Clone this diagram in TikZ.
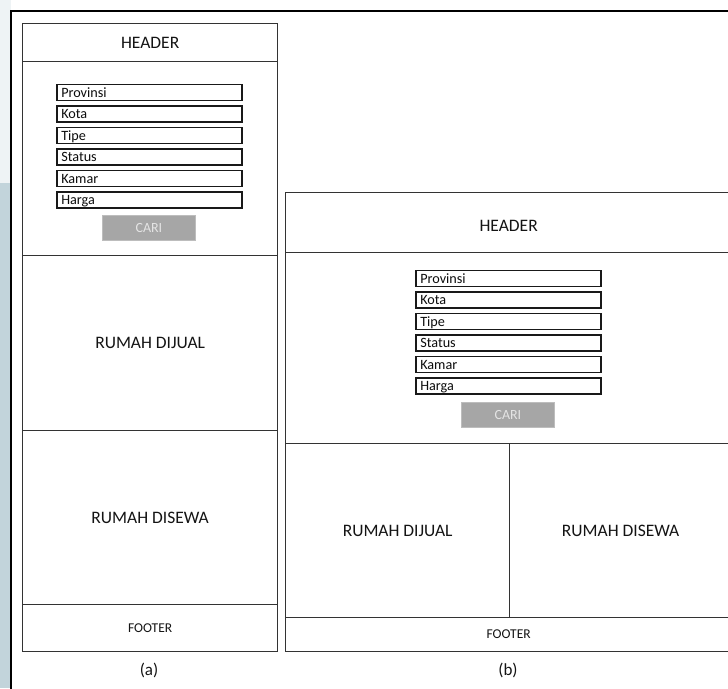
\documentclass[tikz,border=0pt]{standalone}
\usepackage{fontspec}
\setmainfont{Carlito}
\definecolor{stripA}{HTML}{EEF3F5}
\definecolor{stripB}{HTML}{C2D4DB}
\definecolor{linec}{HTML}{333333}
\definecolor{btnfill}{HTML}{A6A6A6}
\definecolor{btnline}{HTML}{BDBDBD}
\definecolor{btntext}{HTML}{E4E4E4}
\tikzset{
  panel/.style={draw=linec, line width=1.3pt, anchor=north west, inner sep=0pt, font=\fontsize{17.5}{20}\selectfont, text=black!92},
  smallpanel/.style={panel, font=\fontsize{13.5}{16}\selectfont},
  field/.style={draw=black!90, line width=1.5pt, anchor=north west, minimum height=16pt, text width=176pt, text height=10pt, text depth=0pt, inner xsep=4.5pt, inner ysep=0pt, align=left, font=\fontsize{14.2}{16}\selectfont, text=black!95},
  btn/.style={draw=btnline, line width=0.8pt, fill=btnfill, anchor=north west, minimum width=93pt, minimum height=25pt, inner sep=0pt, font=\fontsize{14}{16}\selectfont, text=btntext},
  caption/.style={font=\fontsize{17}{20}\selectfont, text=black!92}
}
\begin{document}
\begin{tikzpicture}[x=1pt,y=-1pt]
\useasboundingbox (0,0) rectangle (728,688);
\clip (0,0) rectangle (728,688);
\fill[white] (0,0) rectangle (728,688);
\fill[stripA] (0,0) rectangle (11,183);
\fill[stripB] (0,183) rectangle (11,688);
\draw[black, line width=1.3pt] (11,740) -- (11,11) -- (740,11);
% panel (a)
\node[panel, minimum width=255pt, minimum height=38pt] (aHead) at (22,23) {HEADER};
\node[panel, minimum width=255pt, minimum height=194pt] (aSearch) at (22,61) {};
\node[panel, minimum width=255pt, minimum height=175pt] (aJual) at (22,255) {RUMAH DIJUAL};
\node[panel, minimum width=255pt, minimum height=174pt] (aSewa) at (22,430) {RUMAH DISEWA};
\node[smallpanel, minimum width=255pt, minimum height=47pt] (aFoot) at (22,604) {FOOTER};
\node[field] (aF1) at (56,83.5) {Provinsi};
\node[field] (aF2) at (56,105) {Kota};
\node[field] (aF3) at (56,126.5) {Tipe};
\node[field] (aF4) at (56,148) {Status};
\node[field] (aF5) at (56,169.5) {Kamar};
\node[field] (aF6) at (56,191) {Harga};
\node[btn] (aBtn) at (102,215) {CARI};
\node[caption] (aCap) at (149,670) {(a)};
% panel (b)
\node[panel, minimum width=446pt, minimum height=60pt, text height=17pt, text depth=0pt] (bHead) at (285,192) {HEADER};
\node[panel, minimum width=446pt, minimum height=191pt] (bSearch) at (285,252) {};
\node[panel, minimum width=224pt, minimum height=174pt] (bJual) at (285,443) {RUMAH DIJUAL};
\node[panel, minimum width=222pt, minimum height=174pt] (bSewa) at (509,443) {RUMAH DISEWA};
\node[smallpanel, minimum width=446pt, minimum height=34pt] (bFoot) at (285,617) {FOOTER};
\node[field] (bF1) at (415,269.5) {Provinsi};
\node[field] (bF2) at (415,291) {Kota};
\node[field] (bF3) at (415,312.5) {Tipe};
\node[field] (bF4) at (415,334) {Status};
\node[field] (bF5) at (415,355.5) {Kamar};
\node[field] (bF6) at (415,377) {Harga};
\node[btn] (bBtn) at (461,402) {CARI};
\node[caption] (bCap) at (508,670) {(b)};
\end{tikzpicture}
\end{document}
